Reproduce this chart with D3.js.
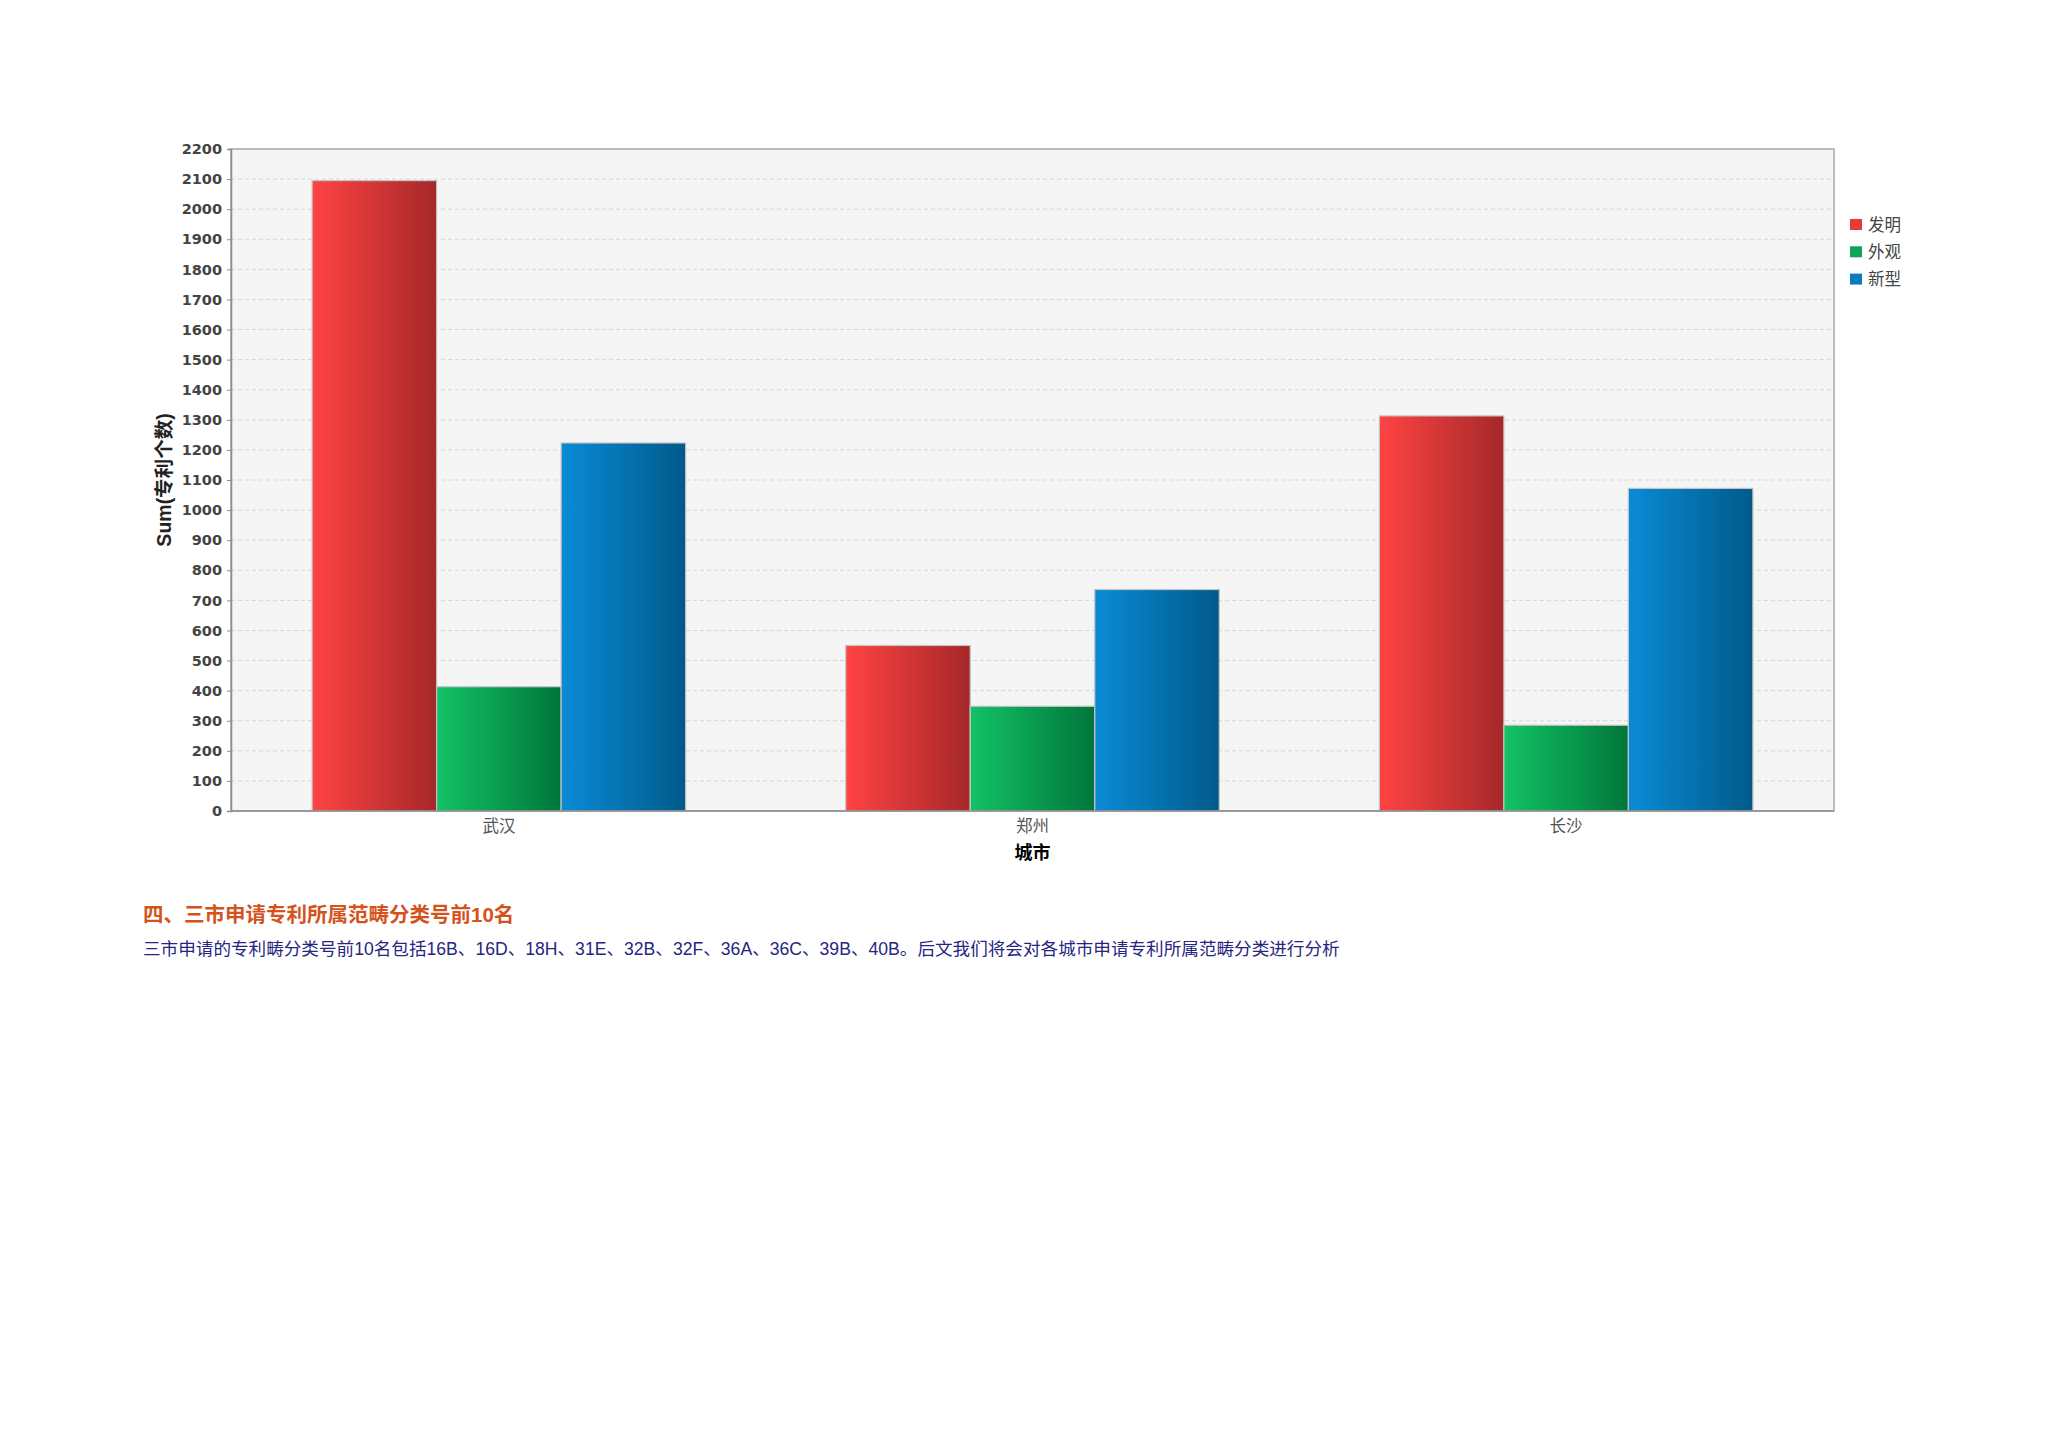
<!DOCTYPE html>
<html lang="zh">
<head>
<meta charset="utf-8">
<script src="https://d3js.org/d3.v7.min.js"></script>
<style type="text/css">
body {
	margin: 0;
	background: #fff;
}
.tick text {
	font: bold 14.5px "DejaVu Sans", sans-serif;
	fill: #444;
}
</style>
</head>
<body>
<script type="text/javascript">

// chart data
var cities = ["武汉", "郑州", "长沙"];
var seriesNames = ["发明", "外观", "新型"];
var invention = [2095, 550, 1313];   // 发明
var design = [413, 348, 285];         // 外观
var utility = [1223, 736, 1072];      // 新型
var yTicks = d3.range(0, 2201, 100);

var headingText = "四、三市申请专利所属范畴分类号前10名";
var bodyText = "三市申请的专利畴分类号前10名包括16B、16D、18H、31E、32B、32F、36A、36C、39B、40B。后文我们将会对各城市申请专利所属范畴分类进行分析";

var width = 2048, height = 1447;
var plot = {left: 231, right: 1834, top: 149, bottom: 811};

// colours: [light, dark] for the horizontal gradient
var colors = [["#ff4343", "#a52829"], ["#13c266", "#00763a"], ["#0a8bd6", "#005a8a"]];
var legendColors = ["#e8393b", "#0aa556", "#0a7bc0"];

var svg = d3.select("body")
            .append("svg")
            .attr("width", width)
            .attr("height", height);

var defs = svg.append("defs");
colors.forEach(function(c, i) {
  var g = defs.append("linearGradient")
              .attr("id", "grad" + i)
              .attr("x1", "0%").attr("x2", "100%")
              .attr("y1", "0%").attr("y2", "0%");
  g.append("stop").attr("offset", "0%").attr("stop-color", c[0]);
  g.append("stop").attr("offset", "100%").attr("stop-color", c[1]);
});

// scales
var x0 = d3.scaleBand()
           .domain(cities)
           .range([plot.left, plot.right])
           .paddingInner(0.3)
           .paddingOuter(0.152);

var x1 = d3.scaleBand()
           .domain(d3.range(seriesNames.length))
           .range([0, x0.bandwidth()]);

var y = d3.scaleLinear()
          .domain([0, 2200])
          .range([plot.bottom, plot.top]);

// plot background
svg.append("rect")
   .attr("x", plot.left)
   .attr("y", plot.top)
   .attr("width", plot.right - plot.left)
   .attr("height", plot.bottom - plot.top)
   .style("fill", "#f5f5f5")
   .style("stroke", "#a8a8a8")
   .style("stroke-width", 1.5);

// gridlines
svg.append("g")
   .selectAll("line")
   .data(yTicks.filter(function(d) { return d > 0 && d < 2200; }))
   .enter()
   .append("line")
   .attr("x1", plot.left)
   .attr("x2", plot.right)
   .attr("y1", function(d) { return y(d); })
   .attr("y2", function(d) { return y(d); })
   .style("stroke", "#d6d6d6")
   .style("stroke-width", 1)
   .style("stroke-dasharray", "4,3");

// bars
var series = [invention, design, utility];
var bars = [];
cities.forEach(function(c, ci) {
  series.forEach(function(s, si) {
    bars.push({city: c, s: si, value: s[ci]});
  });
});

svg.append("g")
   .selectAll("rect")
   .data(bars)
   .enter()
   .append("rect")
   .attr("x", function(d) { return x0(d.city) + x1(d.s); })
   .attr("y", function(d) { return y(d.value); })
   .attr("width", x1.bandwidth())
   .attr("height", function(d) { return y(0) - y(d.value); })
   .style("fill", function(d) { return "url(#grad" + d.s + ")"; })
   .style("stroke", "#c4c4c4")
   .style("stroke-width", 1.2);

// y axis
var yAxis = svg.append("g")
   .attr("transform", "translate(" + plot.left + ",0)")
   .call(d3.axisLeft(y).tickValues(yTicks).tickFormat(d3.format("d")).tickSize(4).tickPadding(5));
yAxis.select(".domain").style("stroke", "#8c8c8c").style("stroke-width", 1.5);
yAxis.selectAll(".tick line").style("stroke", "#8c8c8c");

// x axis line
svg.append("line")
   .attr("x1", plot.left).attr("x2", plot.right)
   .attr("y1", plot.bottom).attr("y2", plot.bottom)
   .style("stroke", "#8c8c8c")
   .style("stroke-width", 1.5);

// category labels
svg.append("g")
   .selectAll("text")
   .data(cities)
   .enter()
   .append("text")
   .attr("x", function(d) { return x0(d) + x0.bandwidth() / 2; })
   .attr("y", 832)
   .attr("text-anchor", "middle")
   .style("font", "16.5px 'Noto Sans CJK SC', sans-serif")
   .style("fill", "#555")
   .text(function(d) { return d; });

// axis titles
svg.append("text")
   .attr("x", (plot.left + plot.right) / 2)
   .attr("y", 859)
   .attr("text-anchor", "middle")
   .style("font", "bold 18px 'Noto Sans CJK SC', sans-serif")
   .style("fill", "#000")
   .text("城市");

svg.append("text")
   .attr("transform", "translate(171,480) rotate(-90)")
   .attr("text-anchor", "middle")
   .style("font", "bold 19.5px 'Liberation Sans', 'Noto Sans CJK SC', sans-serif")
   .style("fill", "#222")
   .text("Sum(专利个数)");

// legend
var legend = svg.append("g")
   .selectAll("g")
   .data(seriesNames)
   .enter()
   .append("g")
   .attr("transform", function(d, i) { return "translate(1850," + (219 + i * 27.3) + ")"; });

legend.append("rect")
      .attr("width", 12)
      .attr("height", 11)
      .style("fill", function(d, i) { return legendColors[i]; });

legend.append("text")
      .attr("x", 18)
      .attr("y", 6)
      .attr("dy", ".35em")
      .style("font", "16.5px 'Noto Sans CJK SC', sans-serif")
      .style("fill", "#444")
      .text(function(d) { return d; });

// text below the chart
svg.append("text")
   .attr("x", 143)
   .attr("y", 922)
   .style("font", "bold 20.5px 'Liberation Sans', 'Noto Sans CJK SC', sans-serif")
   .style("fill", "#d4531c")
   .text(headingText);

svg.append("text")
   .attr("x", 143)
   .attr("y", 955)
   .style("font", "17.6px 'Liberation Sans', 'Noto Sans CJK SC', sans-serif")
   .style("fill", "#262680")
   .text(bodyText);

</script>
</body>
</html>
